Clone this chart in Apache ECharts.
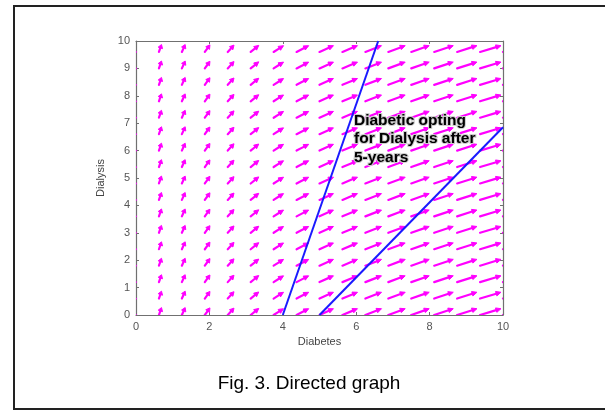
<!DOCTYPE html>
<html>
<head>
<meta charset="utf-8">
<script src="https://cdn.jsdelivr.net/npm/echarts@6/dist/echarts.min.js"></script>
<style>
html,body{margin:0;padding:0;background:#fff;}
#c{width:605px;height:411px;}
</style>
</head>
<body>
<div id="c"></div>
<script>
// Grid of the direction field (Diabetes on x, Dialysis on y)
const xCols = [0, 0.625, 1.25, 1.875, 2.5, 3.125, 3.75, 4.375, 5, 5.625, 6.25, 6.875, 7.5, 8.125, 8.75, 9.375, 10];
const yRows = [0, 0.6, 1.2, 1.8, 2.4, 3.0, 3.6, 4.2, 4.8, 5.4, 6.0, 6.6, 7.2, 7.8, 8.4, 9.0, 9.6];
// Arrow components per column (data units)
const dxByCol = [0, 0.07, 0.09, 0.14, 0.17, 0.22, 0.27, 0.33, 0.38, 0.41, 0.44, 0.46, 0.49, 0.52, 0.54, 0.57, 0.60];
const dyByCol = [0, 0.27, 0.27, 0.26, 0.25, 0.24, 0.23, 0.23, 0.23, 0.23, 0.23, 0.23, 0.23, 0.23, 0.23, 0.23, 0.23];
// Boundary lines
const line1 = [[4, 0], [6.6, 10]];
const line2 = [[5, 0], [10, 6.85]];
const xTicks = [0, 2, 4, 6, 8, 10];
const yTicks = [0, 1, 2, 3, 4, 5, 6, 7, 8, 9, 10];
const annotation = ['Diabetic opting', 'for Dialysis after', '5-years'];
const caption = 'Fig. 3. Directed graph';

const field = [];
xCols.forEach((x, i) => {
  yRows.forEach(y => field.push([x, y, dxByCol[i], dyByCol[i]]));
});

const chart = echarts.init(document.getElementById('c'));
const FONT = '"Liberation Sans", Arial, sans-serif';
const axisCommon = {
  min: 0, max: 10,
  axisLine: {show: true, onZero: false, lineStyle: {color: '#707070', width: 1.2}},
  axisTick: {show: true, inside: true, length: 3, lineStyle: {color: '#707070'}},
  splitLine: {show: false}
};

chart.setOption({
  animation: false,
  backgroundColor: '#fff',
  grid: {left: 136, right: 102, top: 41, bottom: 96},
  xAxis: [
    Object.assign({}, axisCommon, {
      type: 'value', position: 'bottom', interval: 2,
      name: 'Diabetes', nameLocation: 'middle', nameGap: 20,
      nameTextStyle: {fontFamily: FONT, fontSize: 11, color: '#444'},
      axisLabel: {fontFamily: FONT, fontSize: 11, color: '#555', margin: 6}
    }),
    Object.assign({}, axisCommon, {
      type: 'value', position: 'top', interval: 2, axisLabel: {show: false}
    })
  ],
  yAxis: [
    Object.assign({}, axisCommon, {
      type: 'value', position: 'left', interval: 1,
      name: 'Dialysis', nameLocation: 'middle', nameGap: 22, nameRotate: 90,
      nameTextStyle: {fontFamily: FONT, fontSize: 11, color: '#444'},
      axisLabel: {fontFamily: FONT, fontSize: 11, color: '#555', margin: 6}
    }),
    Object.assign({}, axisCommon, {
      type: 'value', position: 'right', interval: 1, axisLabel: {show: false}
    })
  ],
  series: [
    {
      type: 'custom',
      clip: true,
      data: field,
      renderItem: function (params, api) {
        const x = api.value(0), y = api.value(1), dx = api.value(2), dy = api.value(3);
        const p0 = api.coord([x, y]);
        const p1 = api.coord([x + dx, y + dy]);
        const vx = p1[0] - p0[0], vy = p1[1] - p0[1];
        const len = Math.sqrt(vx * vx + vy * vy);
        const col = '#ff00ff';
        if (len < 1) {
          return {type: 'circle', shape: {cx: p0[0], cy: p0[1], r: 0.9}, style: {fill: col}};
        }
        const ux = vx / len, uy = vy / len;
        const hl = Math.min(5, len * 0.45), hw = 2.3;
        const bx = p1[0] - ux * hl, by = p1[1] - uy * hl;
        return {
          type: 'group',
          children: [
            {type: 'line', shape: {x1: p0[0], y1: p0[1], x2: bx, y2: by},
             style: {stroke: col, lineWidth: 2.2, lineCap: 'round'}},
            {type: 'polygon', shape: {points: [[p1[0], p1[1]], [bx - uy * hw, by + ux * hw], [bx + uy * hw, by - ux * hw]]},
             style: {fill: col, stroke: col, lineWidth: 1}}
          ]
        };
      }
    },
    {type: 'line', data: line1, symbol: 'none', lineStyle: {color: '#1a1aff', width: 2}, z: 3},
    {type: 'line', data: line2, symbol: 'none', lineStyle: {color: '#1a1aff', width: 2}, z: 3}
  ],
  graphic: [
    {type: 'rect', shape: {x: 14, y: 6, width: 620, height: 403},
     style: {fill: 'none', stroke: '#222', lineWidth: 2}, z: 10},
    {type: 'text', left: 353, top: 111, z: 20,
     style: {text: annotation.join('\n'), fontFamily: FONT, fontWeight: 'bold', fontSize: 15.5,
             lineHeight: 18.5, fill: '#000', stroke: '#ccc', lineWidth: 2}},
    {type: 'text', x: 309, y: 384, z: 20,
     style: {text: caption, fontFamily: FONT, fontSize: 19, fill: '#000',
             textAlign: 'center', textVerticalAlign: 'middle'}}
  ]
});
</script>
</body>
</html>
